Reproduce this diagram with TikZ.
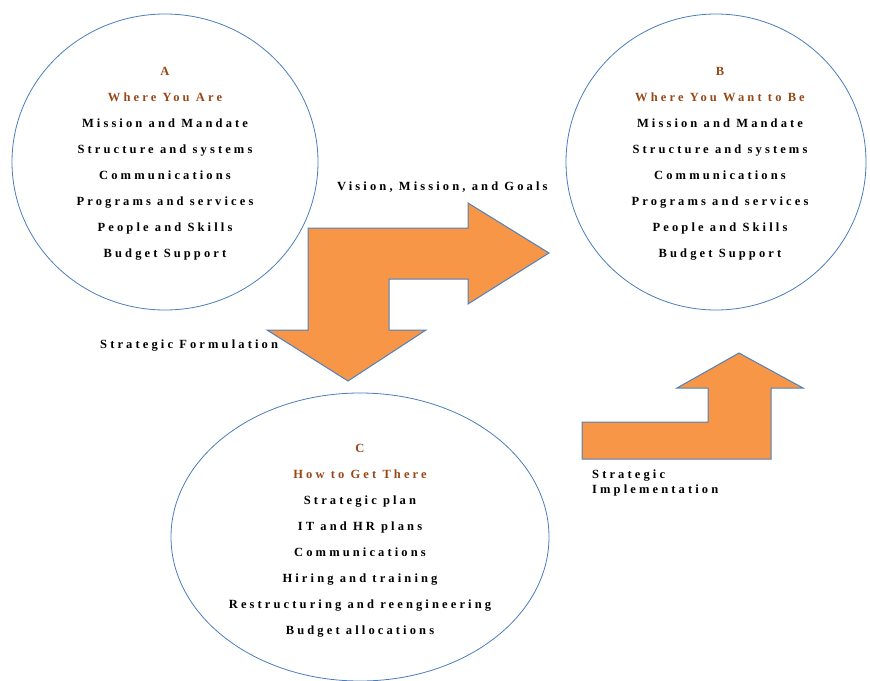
\documentclass[tikz,border=0pt]{standalone}
\usepackage{fontspec}
\newfontfamily\diagfont[LetterSpace=25]{Liberation Serif}
\usetikzlibrary{shapes.geometric}
\definecolor{ringblue}{RGB}{74,126,187}
\definecolor{arrowfill}{RGB}{247,150,70}
\definecolor{arrowline}{RGB}{79,129,189}
\definecolor{titlebrown}{RGB}{152,72,22}
\newcommand{\heading}[1]{\textcolor{titlebrown}{#1}}

\begin{document}
\begin{tikzpicture}
[
    x=1pt, y=-1pt,
    zone/.style={ellipse, draw=ringblue, line width=0.8pt, inner sep=0pt},
    items/.style={align=center, inner sep=0pt, font=\diagfont\bfseries\fontsize{12.5}{26}\selectfont},
    caption/.style={inner sep=0pt, font=\diagfont\bfseries\fontsize{12.5}{15}\selectfont},
    bigarrow/.style={fill=arrowfill, draw=arrowline, line width=1pt, line join=miter},
]
\useasboundingbox (0,0) rectangle (870,680);
% the three states
\node[zone, minimum width=306pt, minimum height=296pt] (A) at (165,162) {};
\node[zone, minimum width=300pt, minimum height=296pt] (B) at (716,162) {};
\node[zone, minimum width=378pt, minimum height=288pt] (C) at (360,537) {};
\node[items] (A list) at (165,164) {\heading{A}\\ \heading{Where You Are}\\ Mission and Mandate\\ Structure and systems\\ Communications\\ Programs and services\\ People and Skills\\ Budget Support};
\node[items] (B list) at (720,164) {\heading{B}\\ \heading{Where You Want to Be}\\ Mission and Mandate\\ Structure and systems\\ Communications\\ Programs and services\\ People and Skills\\ Budget Support};
\node[items] (C list) at (360,541) {\heading{C}\\ \heading{How to Get There}\\ Strategic plan\\ IT and HR plans\\ Communications\\ Hiring and training\\ Restructuring and reengineering\\ Budget allocations};
% arrows
\draw[bigarrow] (308,228) -- (468,228) -- (468,203) -- (549,253) -- (468,304) -- (468,279)
    -- (389,279) -- (389,330) -- (426,330) -- (348,381) -- (267,330) -- (308,330) -- cycle;
\draw[bigarrow] (582,459) -- (582,422) -- (708,422) -- (708,388) -- (677,388) -- (739,353)
    -- (803,388) -- (771,388) -- (771,459) -- cycle;
% labels
\node[caption, anchor=west] (vision) at (337,187) {Vision, Mission, and Goals};
\node[caption, anchor=west] (formulation) at (100,346) {Strategic Formulation};
\node[caption, anchor=north west, align=left] (implementation) at (592,470) {Strategic\\ Implementation};
\end{tikzpicture}
\end{document}
